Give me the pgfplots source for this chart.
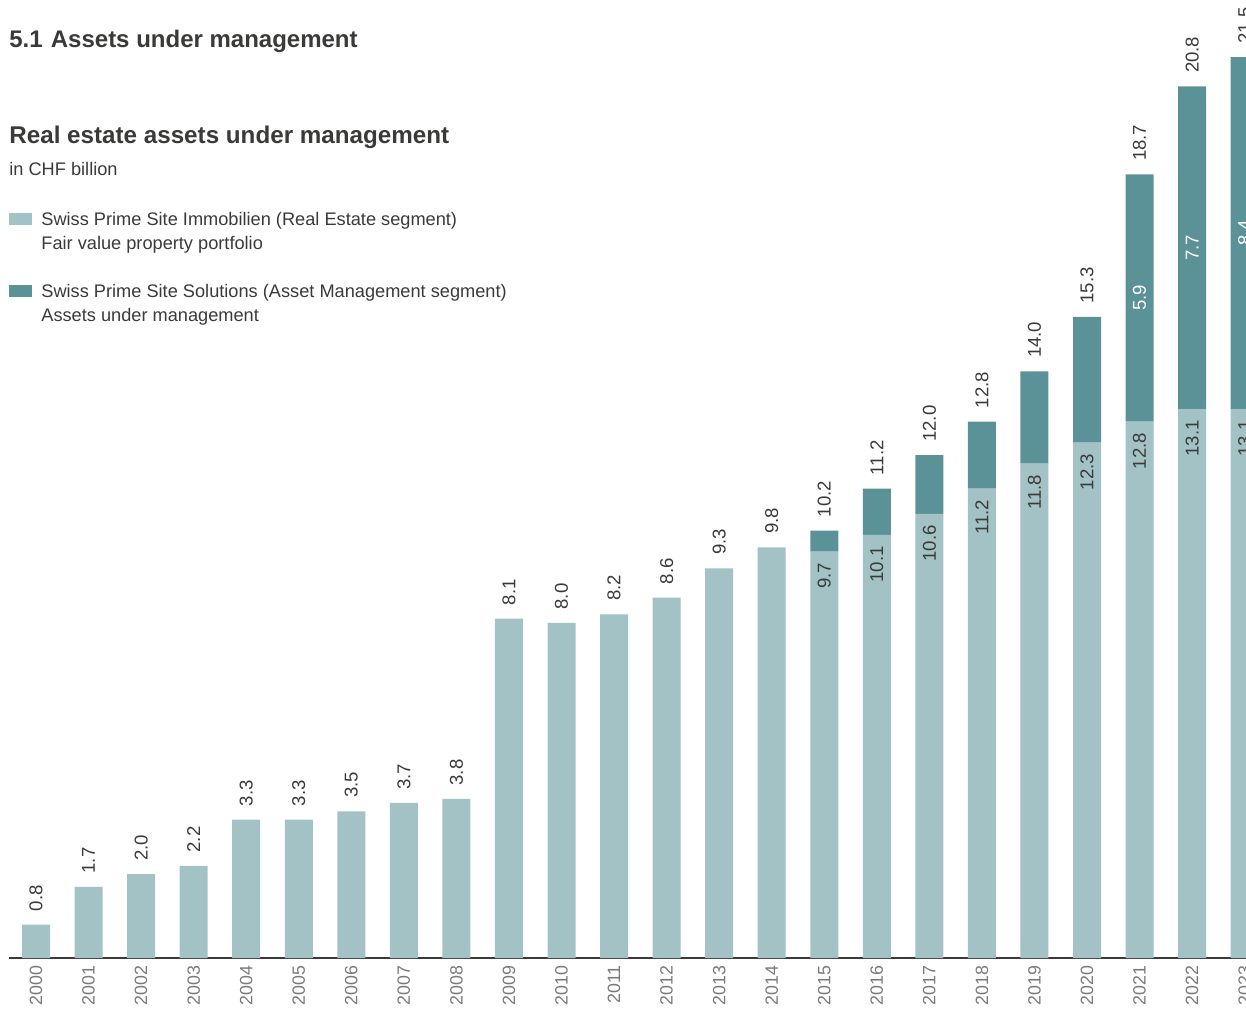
\documentclass[border=0pt]{standalone}
\usepackage{pgfplots}
\usepackage{pgfplotstable}
\pgfplotsset{compat=1.18}
\usepackage{fontspec}
\setmainfont{Liberation Sans}
\definecolor{lightbar}{HTML}{A3C2C5}
\definecolor{darkbar}{HTML}{5B9297}
\definecolor{txt}{HTML}{3A3A39}
\definecolor{yeargray}{HTML}{7A7A7A}

\pgfplotstableread{
idx year low high total
0 2000 0.8 0 0.8
1 2001 1.7 0 1.7
2 2002 2.0 0 2.0
3 2003 2.2 0 2.2
4 2004 3.3 0 3.3
5 2005 3.3 0 3.3
6 2006 3.5 0 3.5
7 2007 3.7 0 3.7
8 2008 3.8 0 3.8
9 2009 8.1 0 8.1
10 2010 8.0 0 8.0
11 2011 8.2 0 8.2
12 2012 8.6 0 8.6
13 2013 9.3 0 9.3
14 2014 9.8 0 9.8
15 2015 9.7 0.5 10.2
16 2016 10.1 1.1 11.2
17 2017 10.6 1.4 12.0
18 2018 11.2 1.6 12.8
19 2019 11.8 2.2 14.0
20 2020 12.3 3.0 15.3
21 2021 12.8 5.9 18.7
22 2022 13.1 7.7 20.8
23 2023 13.1 8.4 21.5
}\datatable

\tikzset{
  valfont/.style={font=\fontsize{9.3}{11}\selectfont},
  toplabel/.style={valfont, text=txt, rotate=90, anchor=west, inner xsep=6.5pt, inner ysep=0pt},
  inlabel/.style={valfont, text=txt, rotate=90, anchor=east, inner xsep=5.5pt, inner ysep=0pt},
  midlabel/.style={valfont, text=white, rotate=90, anchor=center, inner sep=0pt},
}

\begin{document}
\begin{tikzpicture}
\useasboundingbox (0,0) rectangle (623pt,-504.5pt);
\clip (0,0) rectangle (623pt,-504.5pt);

% titles
\node[anchor=base west, inner sep=0, text=txt, font=\fontsize{12}{14}\selectfont\bfseries] at (4.5pt,-23.5pt) {5.1\hspace{0.34em}Assets under management};
\node[anchor=base west, inner sep=0, text=txt, font=\fontsize{12.1}{14}\selectfont\bfseries] at (4.5pt,-71.5pt) {Real estate assets under management};
\node[anchor=base west, inner sep=0, text=txt, font=\fontsize{9.1}{11}\selectfont] at (4.5pt,-87.5pt) {in CHF billion};

% legend
\fill[lightbar] (4.5pt,-106.35pt) rectangle (16pt,-112.5pt);
\node[anchor=base west, inner sep=0, text=txt, font=\fontsize{9.1}{11}\selectfont] at (20.5pt,-112.5pt) {Swiss Prime Site Immobilien (Real Estate segment)};
\node[anchor=base west, inner sep=0, text=txt, font=\fontsize{9.1}{11}\selectfont] at (20.5pt,-124.5pt) {Fair value property portfolio};
\fill[darkbar] (4.5pt,-142.35pt) rectangle (16pt,-148.5pt);
\node[anchor=base west, inner sep=0, text=txt, font=\fontsize{9.1}{11}\selectfont] at (20.5pt,-148.5pt) {Swiss Prime Site Solutions (Asset Management segment)};
\node[anchor=base west, inner sep=0, text=txt, font=\fontsize{9.1}{11}\selectfont] at (20.5pt,-160.5pt) {Assets under management};

\begin{axis}[
  at={(4.5pt,-479pt)}, anchor=south west,
  scale only axis, width=618.5pt, height=479pt,
  xmin=-0.514, xmax=23.026, ymin=0, ymax=22.86,
  ybar stacked, bar width=14pt,
  clip=false,
  axis x line*=bottom, hide y axis,
  x axis line style={-, draw=txt, line width=0.75pt},
  xtick={0,...,23}, major tick length=0pt,
  xticklabels={2000,2001,2002,2003,2004,2005,2006,2007,2008,2009,2010,2011,2012,2013,2014,2015,2016,2017,2018,2019,2020,2021,2022,2023},
  xticklabel style={rotate=90, anchor=east, inner xsep=3.5pt, inner ysep=0pt, text=yeargray, font=\fontsize{8.9}{10}\selectfont},
  ytick=\empty,
]
\addplot[fill=lightbar, draw=none] table[x=idx,y=low]{\datatable};
\addplot[fill=darkbar, draw=none] table[x=idx,y=high]{\datatable};

\pgfplotsinvokeforeach{0,...,23}{
  \pgfplotstablegetelem{#1}{low}\of\datatable
  \let\lowv\pgfplotsretval
  \pgfplotstablegetelem{#1}{high}\of\datatable
  \let\highv\pgfplotsretval
  \pgfplotstablegetelem{#1}{total}\of\datatable
  \let\totv\pgfplotsretval
  \pgfmathsetmacro\midv{\lowv+\highv/2}
  \edef\temp{%
    \noexpand\coordinate (top#1) at (axis cs:#1,\totv);
    \noexpand\coordinate (low#1) at (axis cs:#1,\lowv);
    \noexpand\coordinate (mid#1) at (axis cs:#1,\midv);
  }
  \temp
}
\end{axis}

% value labels, drawn on top of the bars
\foreach \i in {0,...,23}{
  \pgfplotstablegetelem{\i}{total}\of\datatable
  \node[toplabel] at (top\i) {\pgfplotsretval};
}
\foreach \i in {15,...,23}{
  \pgfplotstablegetelem{\i}{low}\of\datatable
  \node[inlabel] at (low\i) {\pgfplotsretval};
}
\foreach \i in {21,22,23}{
  \pgfplotstablegetelem{\i}{high}\of\datatable
  \node[midlabel] at (mid\i) {\pgfplotsretval};
}
\end{tikzpicture}
\end{document}
